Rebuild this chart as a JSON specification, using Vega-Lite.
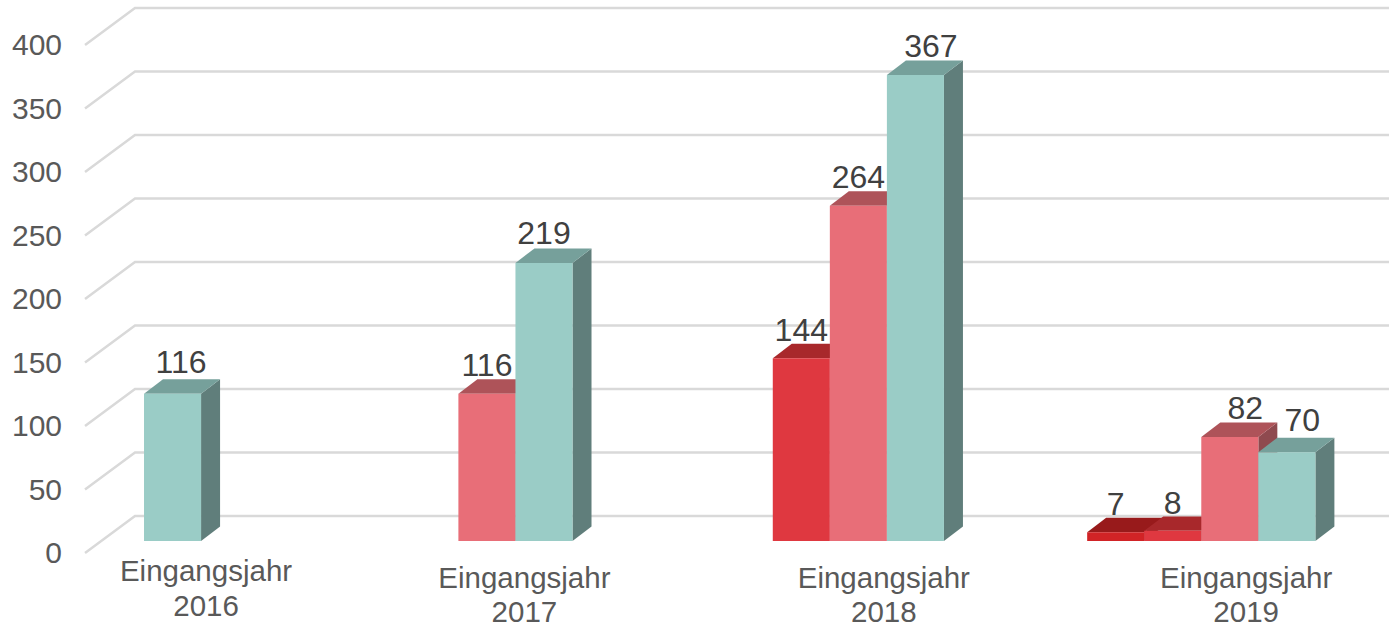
{
"$schema":"https://vega.github.io/schema/vega-lite/v6.json",
"width":1389,"height":626,
"autosize":{"type":"none"},
"padding":0,
"background":"white",
"config":{"view":{"stroke":null}},
"datasets":{
"bars":[
{"group":"Eingangsjahr 2016","g":0,"slot":0,"series":"D","value":116},
{"group":"Eingangsjahr 2017","g":1,"slot":0,"series":"C","value":116},
{"group":"Eingangsjahr 2017","g":1,"slot":1,"series":"D","value":219},
{"group":"Eingangsjahr 2018","g":2,"slot":0,"series":"B","value":144},
{"group":"Eingangsjahr 2018","g":2,"slot":1,"series":"C","value":264},
{"group":"Eingangsjahr 2018","g":2,"slot":2,"series":"D","value":367},
{"group":"Eingangsjahr 2019","g":3,"slot":0,"series":"A","value":7},
{"group":"Eingangsjahr 2019","g":3,"slot":1,"series":"B","value":8},
{"group":"Eingangsjahr 2019","g":3,"slot":2,"series":"C","value":82},
{"group":"Eingangsjahr 2019","g":3,"slot":3,"series":"D","value":70}
],
"ticks":[{"v":0},{"v":50},{"v":100},{"v":150},{"v":200},{"v":250},{"v":300},{"v":350},{"v":400}],
"cats":[{"group":"Eingangsjahr 2016","g":0},{"group":"Eingangsjahr 2017","g":1},{"group":"Eingangsjahr 2018","g":2},{"group":"Eingangsjahr 2019","g":3}]
},
"layer":[
{"data":{"name":"ticks"},
"transform":[{"calculate":"[0,1,2]","as":"t"},{"flatten":["t"]},
{"calculate":"[-1.034,-0.158,21.82][datum.t]","as":"gx"},
{"calculate":"datum.v+[-9.4,19.7,19.7][datum.t]","as":"gy"}],
"mark":{"type":"line","stroke":"#D9D9D9","strokeWidth":2.5,"strokeJoin":"miter"},
"encoding":{
"x":{"field":"gx","type":"quantitative","scale":{"domain":[-2.524,21.82],"nice":false,"zero":false},"axis":null},
"y":{"field":"gy","type":"quantitative","scale":{"domain":[-66.9,426],"nice":false,"zero":false},"axis":null},
"detail":{"field":"v"},
"order":{"field":"t"}}},
{"data":{"name":"ticks"},
"transform":[{"calculate":"-1.437","as":"lx"},{"calculate":"datum.v-10.4","as":"ly"}],
"mark":{"type":"text","align":"right","baseline":"middle","font":"Liberation Sans","fontSize":30,"fill":"#595959"},
"encoding":{
"x":{"field":"lx","type":"quantitative"},
"y":{"field":"ly","type":"quantitative"},
"text":{"field":"v","type":"quantitative"}}},
{"data":{"name":"bars"},
"transform":[{"calculate":"datum.g*5.51+datum.slot+1","as":"xr"},{"calculate":"[0,1]","as":"t"},{"flatten":["t"]},
{"calculate":"datum.xr+datum.t*0.333","as":"sx"},
{"calculate":"datum.t*11.4","as":"sy0"},
{"calculate":"datum.value+datum.t*11.4","as":"sy1"},
{"calculate":"datum.g+'-'+datum.slot","as":"id"}],
"mark":{"type":"area","orient":"vertical"},
"encoding":{
"x":{"field":"sx","type":"quantitative"},
"y":{"field":"sy1","type":"quantitative"},
"y2":{"field":"sy0"},
"detail":{"field":"id"},
"fill":{"field":"series","type":"nominal","legend":null,"scale":{"domain":["A","B","C","D"],"range":["#8A1A1C","#96282C","#8F4A4F","#607E7B"]}}}},
{"data":{"name":"bars"},
"transform":[{"calculate":"datum.g*5.51+datum.slot","as":"xl"},{"calculate":"[0,1]","as":"t"},{"flatten":["t"]},
{"calculate":"datum.xl+datum.t*0.333","as":"tx0"},
{"calculate":"datum.xl+1+datum.t*0.333","as":"tx1"},
{"calculate":"datum.value+datum.t*11.4","as":"ty"},
{"calculate":"datum.g+'-'+datum.slot","as":"id"}],
"mark":{"type":"area","orient":"horizontal"},
"encoding":{
"y":{"field":"ty","type":"quantitative"},
"x":{"field":"tx0","type":"quantitative"},
"x2":{"field":"tx1"},
"detail":{"field":"id"},
"fill":{"field":"series","type":"nominal","legend":null,"scale":{"domain":["A","B","C","D"],"range":["#981A1B","#A8282B","#AE5359","#76A09B"]}}}},
{"data":{"name":"bars"},
"transform":[{"calculate":"datum.g*5.51+datum.slot","as":"xl"},{"calculate":"datum.xl+1","as":"xr"},{"calculate":"0","as":"base"}],
"mark":{"type":"rect"},
"encoding":{
"x":{"field":"xl","type":"quantitative"},
"x2":{"field":"xr"},
"y":{"field":"value","type":"quantitative"},
"y2":{"field":"base"},
"fill":{"field":"series","type":"nominal","legend":null,"scale":{"domain":["A","B","C","D"],"range":["#D12326","#DF3840","#E86E78","#9ACCC6"]}}}},
{"data":{"name":"bars"},
"transform":[
{"calculate":"datum.g*5.51+datum.slot+0.5+[[0.15],[0,0],[0,0,0.27],[0,0,0.27,0.27]][datum.g][datum.slot]","as":"lx"},
{"calculate":"datum.value+[[30.5],[27.5,28.5],[27.5,27.5,27.5],[27.5,26.5,27.5,31.5]][datum.g][datum.slot]/1.27","as":"ly"}],
"mark":{"type":"text","align":"center","baseline":"middle","font":"Liberation Sans","fontSize":32,"fill":"#404040"},
"encoding":{
"x":{"field":"lx","type":"quantitative"},
"y":{"field":"ly","type":"quantitative"},
"text":{"field":"value","type":"quantitative"}}},
{"data":{"name":"cats"},
"transform":[
{"calculate":"datum.g*5.51+[1.087,1.157,1.946,2.787][datum.g]","as":"lx"},
{"calculate":"[-13.5,-18.7,-18.7,-18.7][datum.g]","as":"ly"},
{"calculate":"split(datum.group,' ')","as":"lines"}],
"mark":{"type":"text","align":"center","baseline":"top","font":"Liberation Sans","fontSize":29.5,"lineHeight":34.5,"fill":"#595959"},
"encoding":{
"x":{"field":"lx","type":"quantitative"},
"y":{"field":"ly","type":"quantitative"},
"text":{"field":"lines"}}}
],
"resolve":{"scale":{"fill":"independent"}}
}
